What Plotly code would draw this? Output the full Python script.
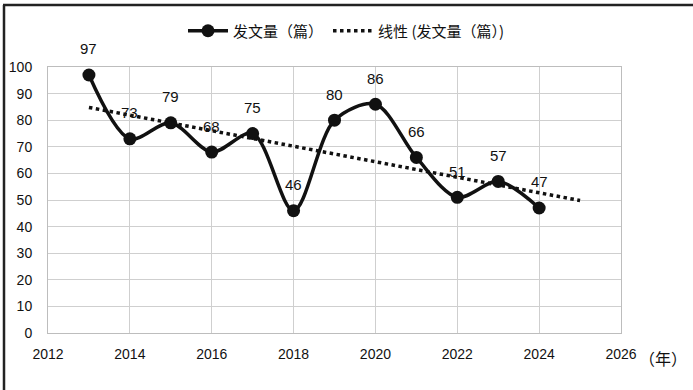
import plotly.graph_objects as go

years = [2013, 2014, 2015, 2016, 2017, 2018, 2019, 2020, 2021, 2022, 2023, 2024]
counts = [97, 73, 79, 68, 75, 46, 80, 86, 66, 51, 57, 47]
trend_years = [2013, 2025]
trend_values = [84.8, 49.8]
x_ticks = [2012, 2014, 2016, 2018, 2020, 2022, 2024, 2026]
y_ticks = [0, 10, 20, 30, 40, 50, 60, 70, 80, 90, 100]

W, H = 693, 390
L, R, T, B = 48, 72, 67, 57
PW, PH = W - L - R, H - T - B

fig = go.Figure()
fig.add_trace(go.Scatter(
    x=years, y=counts, mode="lines+markers", name="发文量（篇）",
    line=dict(color="#111", width=3.5, shape="spline", smoothing=0.9),
    marker=dict(color="#111", size=13),
))
fig.add_trace(go.Scatter(
    x=trend_years, y=trend_values, mode="lines", name="线性 (发文量（篇）)",
    line=dict(color="#111", width=3.5, dash="dot"),
))

for xv, yv in zip(years, counts):
    fig.add_annotation(x=xv, y=yv, text=str(yv), showarrow=False, yshift=26,
                       font=dict(size=15, color="#111", family="Liberation Sans"))

fig.add_annotation(x=1, y=0, xref="paper", yref="paper", text="（年）", showarrow=False,
                   xanchor="left", yanchor="top", xshift=16, yshift=-11,
                   font=dict(size=16, color="#111", family="Noto Sans CJK SC"))

def px_x(p):
    return (p - L) / PW

def px_y(p):
    return (H - B - p) / PH

# outer frame (top and left)
fig.add_shape(type="line", xref="paper", yref="paper",
              x0=px_x(3), x1=px_x(W + 2), y0=px_y(5), y1=px_y(5),
              line=dict(color="#222", width=2.5))
fig.add_shape(type="line", xref="paper", yref="paper",
              x0=px_x(4), x1=px_x(4), y0=px_y(5), y1=px_y(H + 2),
              line=dict(color="#222", width=2.5))

fig.update_layout(
    width=W, height=H,
    margin=dict(l=L, r=R, t=T, b=B, autoexpand=False),
    paper_bgcolor="white", plot_bgcolor="white",
    font=dict(family="Liberation Sans", color="#111", size=14),
    showlegend=True,
    hovermode=False,
    legend=dict(orientation="h", x=0.5, xref="container", xanchor="center",
                y=1 - 31 / H, yref="container", yanchor="middle",
                font=dict(family="Noto Sans CJK SC", size=15, color="#111"),
                itemwidth=40),
    xaxis=dict(range=[2012, 2026], tickvals=x_ticks, showgrid=True, gridcolor="#cfcfcf",
               gridwidth=1, showline=True, linecolor="#bdbdbd", mirror=True, zeroline=False,
               ticks="", tickfont=dict(size=14), ticklabelstandoff=8),
    yaxis=dict(range=[0, 100], tickvals=y_ticks, showgrid=True, gridcolor="#cfcfcf",
               gridwidth=1, showline=True, linecolor="#bdbdbd", mirror=True, zeroline=False,
               ticks="", tickfont=dict(size=14), ticklabelstandoff=12),
)

fig.write_html("out.html", config={"displayModeBar": False},
               post_script="document.body.style.margin='0';document.body.style.overflow='hidden';")
